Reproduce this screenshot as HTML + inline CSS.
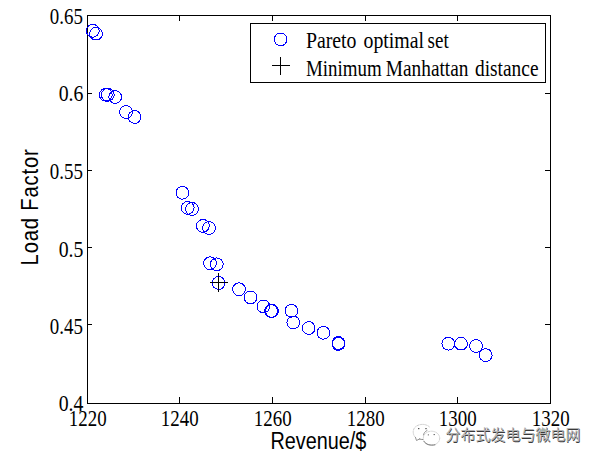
<!DOCTYPE html>
<html><head><meta charset="utf-8"><style>
html,body{margin:0;padding:0;background:#fff;width:600px;height:463px;overflow:hidden}
svg{display:block}
</style></head><body>
<svg width="600" height="463" viewBox="0 0 600 463">
<rect x="87.5" y="15.5" width="463" height="388" fill="none" stroke="#000" stroke-width="1"/>
<path d="M87.5 403.5V397M87.5 15.5V21M179.5 403.5V397M179.5 15.5V21M272.5 403.5V397M272.5 15.5V21M365.5 403.5V397M365.5 15.5V21M457.5 403.5V397M457.5 15.5V21M550.5 403.5V397M550.5 15.5V21M87.5 15.5H92M550.5 15.5H545M87.5 93.5H92M550.5 93.5H545M87.5 170.5H92M550.5 170.5H545M87.5 247.5H92M550.5 247.5H545M87.5 324.5H92M550.5 324.5H545M87.5 403.5H92M550.5 403.5H545" stroke="#000" stroke-width="1" fill="none"/>
<g fill="none" stroke="#00f" stroke-width="1" shape-rendering="crispEdges"><circle cx="92.8" cy="30.8" r="6.4"/><circle cx="96" cy="33.7" r="6.4"/><circle cx="105.8" cy="94.8" r="6.4"/><circle cx="107.8" cy="94.8" r="6.4"/><circle cx="115.2" cy="97" r="6.4"/><circle cx="126" cy="112" r="6.4"/><circle cx="134.6" cy="117" r="6.4"/><circle cx="182.4" cy="192.8" r="6.4"/><circle cx="187.7" cy="207.9" r="6.4"/><circle cx="192" cy="208.9" r="6.4"/><circle cx="202.9" cy="225.9" r="6.4"/><circle cx="209" cy="228" r="6.4"/><circle cx="210" cy="263.3" r="6.4"/><circle cx="216.8" cy="264.3" r="6.4"/><circle cx="218.6" cy="283" r="6.4"/><circle cx="239" cy="289.3" r="6.4"/><circle cx="250.5" cy="297.4" r="6.4"/><circle cx="263.4" cy="306.4" r="6.4"/><circle cx="271" cy="310.9" r="6.4"/><circle cx="272" cy="310.9" r="6.4"/><circle cx="291.4" cy="310.8" r="6.4"/><circle cx="293.3" cy="322.5" r="6.4"/><circle cx="308.7" cy="328" r="6.4"/><circle cx="323.4" cy="332.8" r="6.4"/><circle cx="338.4" cy="343" r="6.4"/><circle cx="338.4" cy="344" r="6.4"/><circle cx="448.3" cy="343.7" r="6.4"/><circle cx="461" cy="343.7" r="6.4"/><circle cx="476" cy="346" r="6.4"/><circle cx="485.7" cy="355.1" r="6.4"/></g>
<path d="M218.5 273V292M210 282.5H228" stroke="#000" stroke-width="1" fill="none"/>
<rect x="250.5" y="23.5" width="295" height="59" fill="#fff" stroke="#000" stroke-width="1"/>
<circle cx="280.6" cy="39.4" r="6.4" fill="none" stroke="#00f" stroke-width="1" shape-rendering="crispEdges"/>
<path d="M280.5 57V75M272 65.5H290" stroke="#000" stroke-width="1" fill="none"/>
<g font-family="Liberation Serif, serif" font-size="22" fill="#000"><text transform="translate(87.75 426) scale(0.86 1.08)" text-anchor="middle">1220</text><text transform="translate(179.75 426) scale(0.86 1.08)" text-anchor="middle">1240</text><text transform="translate(272.75 426) scale(0.86 1.08)" text-anchor="middle">1260</text><text transform="translate(365.75 426) scale(0.86 1.08)" text-anchor="middle">1280</text><text transform="translate(457.75 426) scale(0.86 1.08)" text-anchor="middle">1300</text><text transform="translate(550.75 426) scale(0.86 1.08)" text-anchor="middle">1320</text><text transform="translate(82.9 24.2) scale(0.86 1.08)" text-anchor="end">0.65</text><text transform="translate(83.4 101.2) scale(0.9 1.08)" text-anchor="end">0.6</text><text transform="translate(82.9 178.6) scale(0.86 1.08)" text-anchor="end">0.55</text><text transform="translate(83.4 256.59999999999997) scale(0.9 1.08)" text-anchor="end">0.5</text><text transform="translate(82.9 333.59999999999997) scale(0.86 1.08)" text-anchor="end">0.45</text><text transform="translate(83.4 411.29999999999995) scale(0.9 1.08)" text-anchor="end">0.4</text></g>
<g font-family="Liberation Serif, serif" font-size="21" fill="#000"><text transform="translate(305.9 47.7) scale(0.943 1.1)">Pareto</text><text transform="translate(363.5 47.7) scale(0.945 1.1)">optimal</text><text transform="translate(427.5 47.7) scale(0.908 1.1)">set</text><text transform="translate(306 75.9) scale(0.901 1.1)">Minimum</text><text transform="translate(385.8 75.9) scale(0.921 1.1)">Manhattan</text><text transform="translate(475 75.9) scale(0.923 1.1)">distance</text></g>
<text transform="translate(318.35 448.8) scale(0.90 1.067)" text-anchor="middle" font-family="Liberation Sans, sans-serif" font-size="22">Revenue/$</text>
<text transform="translate(38 206.9) rotate(-90) scale(0.92 1.06)" text-anchor="middle" letter-spacing="0.9" font-family="Liberation Sans, sans-serif" font-size="22">Load Factor</text>
<g fill="none" stroke-linecap="round"><path d="M415.5 437.5C412 434 412.5 428 417 425.8C421 423.5 427 424 430 427.5" stroke="#c8c8c8" stroke-width="0.9" stroke-dasharray="1.6 1.2"/><path d="M415.5 437.5L416.5 440.5L419.5 439" stroke="#888" stroke-width="0.9"/><path d="M419.5 439C421 439.5 422.5 439.6 423.5 439.5" stroke="#777" stroke-width="0.9"/><ellipse cx="431.5" cy="438.2" rx="8.2" ry="7" fill="#fff" stroke="#d0d0d0" stroke-width="0.9" stroke-dasharray="1.6 1.1"/><path d="M424 441.5C426 444.5 430 445.8 435 444.8" stroke="#666" stroke-width="0.9"/><path d="M427 430.5C425 431.5 423.8 433 423.5 435" stroke="#777" stroke-width="0.8"/></g>
<g fill="#555"><rect x="418" y="428" width="1.4" height="1.2"/><rect x="425.3" y="428" width="1.4" height="1.2"/><rect x="427.8" y="434.3" width="1.2" height="1.1" fill="#777"/><rect x="433.6" y="434" width="1.2" height="1.1"/></g>
<g font-family="Noto Sans CJK SC, sans-serif" font-size="15"><text x="446.1" y="441.1" fill="#3a3a3a">分布式发电与微电网</text><text x="445.4" y="440.4" fill="#b4b4b4">分布式发电与微电网</text></g>
</svg>
</body></html>
